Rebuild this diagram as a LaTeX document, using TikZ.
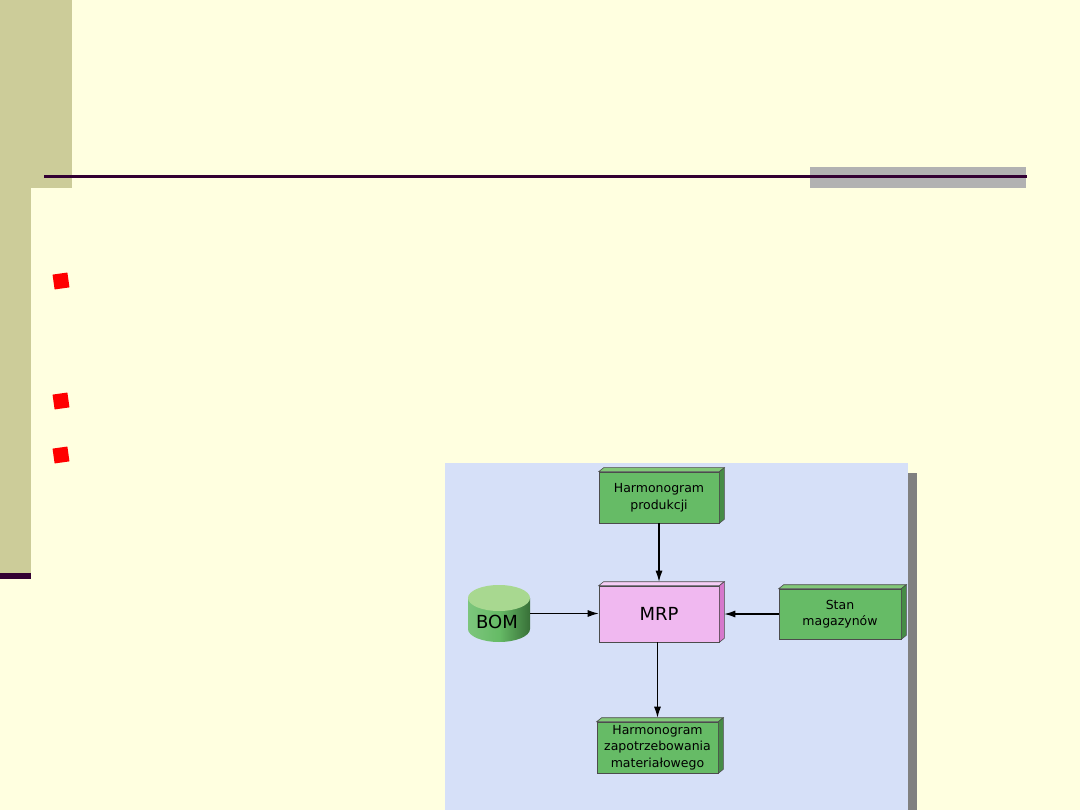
\documentclass[tikz,border=0pt]{standalone}
\usepackage{fontspec}
\setmainfont{DejaVu Sans}
\usetikzlibrary{arrows.meta,calc,shapes.geometric}
\definecolor{cream}{RGB}{255,255,224}
\definecolor{olive}{RGB}{204,204,153}
\definecolor{plum}{RGB}{51,0,51}
\definecolor{barGray}{RGB}{178,178,178}
\definecolor{panel}{RGB}{214,224,248}
\definecolor{shadowGray}{RGB}{128,128,128}
\definecolor{boxGreen}{RGB}{102,187,102}
\definecolor{boxGreenSide}{RGB}{70,140,70}
\definecolor{boxGreenTop}{RGB}{130,200,120}
\definecolor{boxPink}{RGB}{240,184,240}
\definecolor{boxPinkSide}{RGB}{214,120,204}
\definecolor{boxPinkTop}{RGB}{246,206,246}
\definecolor{bomTop}{RGB}{168,216,144}
\definecolor{bulletRed}{RGB}{255,0,0}
\newcommand\sidefaces[3]{%
  \fill[#2,draw=black!70,line width=0.6pt] (#1.north west) -- ++(5,-4) -- ($(#1.north east)+(5,-4)$) -- (#1.north east) -- cycle;
  \fill[#3,draw=black!70,line width=0.6pt] (#1.north east) -- ++(5,-4) -- ($(#1.south east)+(5,-4)$) -- (#1.south east) -- cycle;
}
\tikzset{
  greenbox/.style={draw=black!70,line width=0.6pt,fill=boxGreen,inner sep=0pt,align=center,font=\fontsize{12.5}{16.5}\selectfont},
  pinkbox/.style={draw=black!70,line width=0.6pt,fill=boxPink,inner sep=0pt,align=center,font=\fontsize{18}{20}\selectfont},
  flow/.style={draw=black,line width=1.2pt,-{Latex[length=11pt,width=7pt]}},
  bullet/.style={fill=bulletRed,minimum size=15pt,inner sep=0pt,rotate=8},
}
\begin{document}
\begin{tikzpicture}[x=1pt,y=-1pt]
\useasboundingbox (0,0) rectangle (1080,810);
\fill[cream] (0,0) rectangle (1080,810);
% left olive bar
\fill[olive] (0,0) rectangle (72,188);
\fill[olive] (0,188) rectangle (31,573);
\fill[plum] (0,573) rectangle (31,579);
% top rule with gray block
\fill[barGray] (810,167) rectangle (1026,188);
\coordinate (ruleL) at (44,176.5);
\coordinate (ruleR) at (1027,176.5);
\draw[plum,line width=3pt] (ruleL) -- (ruleR);
% bullets
\node[bullet] (b1) at (61,281) {};
\node[bullet] (b2) at (61,401) {};
\node[bullet] (b3) at (61,455) {};
% diagram panel
\fill[shadowGray] (908,473) rectangle (917,810);
\fill[panel] (445,463) rectangle (908,810);
% nodes
\node[greenbox,minimum width=120pt,minimum height=51pt] (hp) at (659,497.5) {Harmonogram\\produkcji};
\sidefaces{hp}{boxGreenTop}{boxGreenSide}
\node[pinkbox,minimum width=120pt,minimum height=56pt] (mrp) at (659,614) {MRP};
\sidefaces{mrp}{boxPinkTop}{boxPinkSide}
\node[greenbox,minimum width=122pt,minimum height=50pt] (stan) at (840,614) {Stan\\magazynów};
\sidefaces{stan}{boxGreenTop}{boxGreenSide}
\node[greenbox,minimum width=121pt,minimum height=51pt] (hz) at (657.5,747.5) {Harmonogram\\zapotrzebowania\\materiałowego};
\sidefaces{hz}{boxGreenTop}{boxGreenSide}
% BOM cylinder
\shade[left color=boxGreen!85!white,right color=boxGreenSide!80!black,middle color=boxGreen] (468,598) -- (468,629) arc[start angle=180,end angle=0,x radius=31,y radius=13] -- (530,598) -- cycle;
\fill[bomTop] (499,598) ellipse[x radius=31,y radius=13];
\node[inner sep=0pt,minimum width=62pt,minimum height=57pt] (bom) at (499,613.5) {};
\node[font=\fontsize{18}{20}\selectfont,inner sep=0pt] (bomlabel) at (497,622) {BOM};
% connectors
\draw[flow] (hp.south) -- ($(mrp.north)+(0,-4)$);
\draw[flow] (bom.east) -- (bom.east -| mrp.west);
\draw[flow] (stan.west) -- ($(mrp.east)+(5,0)$);
\draw[flow] (hz.north |- mrp.south) -- ($(hz.north)+(0,-4)$);
\end{tikzpicture}
\end{document}
